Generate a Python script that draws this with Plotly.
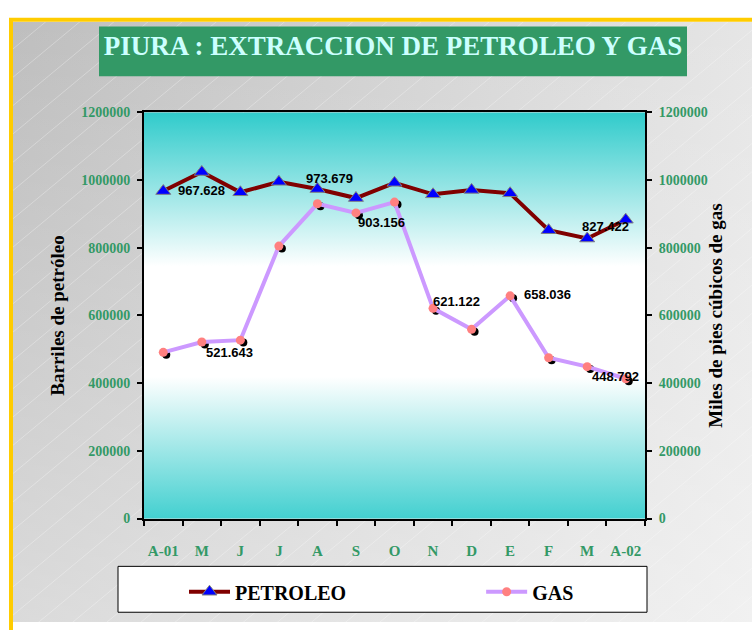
import plotly.graph_objects as go

# ---------------- data ----------------
months = ["A-01", "M", "J", "J", "A", "S", "O", "N", "D", "E", "F", "M", "A-02"]
petroleo = [967628, 1024000, 964000, 995000, 973679, 947000, 992000, 958000, 971000, 961000, 852000, 827422, 883000]
gas = [491000, 521643, 527000, 805000, 930000, 903156, 935000, 621122, 559000, 658036, 475000, 448792, 413000]
y_ticks = [0, 200000, 400000, 600000, 800000, 1000000, 1200000]
# which points carry a value label, and the label offset (px)
petro_labels = {0: (38, 1), 4: (12, 11), 11: (18, 12)}
gas_labels = {1: (28, -11), 5: (26, -10), 7: (23, 7), 9: (37, 1), 11: (28, -10)}

W, H = 752, 630
idx = list(range(len(months)))

SERIF = "Liberation Serif, Times New Roman, serif"
SANS = "Liberation Sans, Arial, sans-serif"
GREEN = "#339966"

# plot-area placement (pixels)
PL, PR, PT, PB = 144, 645, 108, 524
main_x = [PL / W, PR / W]
main_y = [1 - PB / H, 1 - PT / H]
shadow_x = [(PL + 3) / W, (PR + 3) / W]
shadow_y = [1 - (PB + 2.5) / H, 1 - (PT + 2.5) / H]

fig = go.Figure()

# ---------- page background (pixel coordinates, y up) ----------
gx0, gx1, gy0, gy1 = 13, W, 0, H - 15
fig.add_trace(go.Scatter(
    x=[gx0, gx1, gx1, gx0, gx0], y=[gy0, gy0, gy1, gy1, gy0],
    mode="lines", line=dict(width=0), fill="toself",
    fillgradient=dict(type="horizontal", colorscale=[[0, "#BEBEBE"], [1, "#E6E6E6"]], start=gx0, stop=gx1),
    xaxis="x", yaxis="y", hoverinfo="skip", showlegend=False))
fig.add_trace(go.Scatter(
    x=[gx0, gx1, gx1, gx0, gx0], y=[gy0, gy0, gy1, gy1, gy0],
    mode="lines", line=dict(width=0), fill="toself",
    fillgradient=dict(type="vertical", colorscale=[[0, "rgba(255,255,255,0.45)"], [1, "rgba(255,255,255,0)"]],
                      start=gy0, stop=gy1),
    xaxis="x", yaxis="y", hoverinfo="skip", showlegend=False))
# faint diagonal stripes
sx, sy = [], []
c = -700
while c < 640:
    sx += [gx0, gx1, None]
    sy += [0.85 * gx0 + c, 0.85 * gx1 + c, None]
    c += 29
fig.add_trace(go.Scatter(x=sx, y=sy, mode="lines", line=dict(color="rgba(255,255,255,0.3)", width=1),
                         xaxis="x", yaxis="y", hoverinfo="skip", showlegend=False))
# plot-area gradient
by0, by1 = H - PB, H - PT
fig.add_trace(go.Scatter(
    x=[PL, PR, PR, PL, PL], y=[by0, by0, by1, by1, by0],
    mode="lines", line=dict(width=0), fill="toself",
    fillgradient=dict(type="vertical",
                      colorscale=[[0, "#33CCCC"], [0.37, "#FFFFFF"], [0.635, "#FFFFFF"], [1, "#33CCCC"]],
                      start=by0, stop=by1),
    xaxis="x", yaxis="y", hoverinfo="skip", showlegend=False))

# ---------- gas marker shadows ----------
fig.add_trace(go.Scatter(x=idx, y=gas, mode="markers", marker=dict(color="black", size=8),
                         xaxis="x2", yaxis="y2", hoverinfo="skip", showlegend=False))

# ---------- data series ----------
pad = "\u00a0" * 26
fig.add_trace(go.Scatter(
    x=idx, y=petroleo, name="PETROLEO" + pad, mode="lines+markers",
    line=dict(color="#800000", width=4),
    marker=dict(symbol="triangle-up", size=13, color="#0000FF", line=dict(color="#808080", width=1)),
    xaxis="x3", yaxis="y3"))
fig.add_trace(go.Scatter(
    x=idx, y=gas, name="GAS", mode="lines+markers",
    line=dict(color="#CC99FF", width=4),
    marker=dict(symbol="circle", size=9, color="#FF8080"),
    xaxis="x3", yaxis="y4"))

# ---------- value labels ----------
annotations = []
for i, (dx, dy) in petro_labels.items():
    annotations.append(dict(x=idx[i], y=petroleo[i], xref="x3", yref="y3",
                            text=f"{petroleo[i] / 1000:.3f}", showarrow=False,
                            xshift=dx, yshift=dy,
                            font=dict(family=SANS, size=13, color="black", weight="bold")))
for i, (dx, dy) in gas_labels.items():
    annotations.append(dict(x=idx[i], y=gas[i], xref="x3", yref="y4",
                            text=f"{gas[i] / 1000:.3f}", showarrow=False,
                            xshift=dx, yshift=dy,
                            font=dict(family=SANS, size=13, color="black", weight="bold")))

tickfont = dict(family=SERIF, size=14, color=GREEN, weight="bold")
titlefont = dict(family=SERIF, size=19, color="black", weight="bold")

fig.update_layout(
    width=W, height=H,
    margin=dict(l=0, r=0, t=0, b=0),
    paper_bgcolor="white", plot_bgcolor="rgba(0,0,0,0)",
    title=dict(text="PIURA : EXTRACCION DE PETROLEO Y GAS",
               font=dict(family=SERIF, size=27, color="#CCFFFF", weight="bold"),
               x=393 / W, xanchor="center", y=1 - 45.5 / H, yanchor="middle"),
    xaxis=dict(domain=[gx0 / W, 1], range=[gx0, gx1], visible=False, fixedrange=True),
    yaxis=dict(domain=[0, gy1 / H], range=[gy0, gy1], visible=False, fixedrange=True),
    xaxis2=dict(domain=shadow_x, range=[-0.5, len(months) - 0.5], visible=False, anchor="y2"),
    yaxis2=dict(domain=shadow_y, range=[0, 1200000], visible=False, anchor="x2"),
    xaxis3=dict(domain=main_x, range=[-0.5, len(months) - 0.5], anchor="y3",
                tickmode="array", tickvals=idx, ticktext=months, ticks="",
                ticklabelstandoff=17, tickfont=dict(family=SERIF, size=15, color=GREEN, weight="bold"),
                minor=dict(tickmode="array", tickvals=[i - 0.5 for i in range(len(months) + 1)],
                           ticks="outside", ticklen=5, tickcolor="black", tickwidth=1.5, showgrid=False),
                showline=True, linecolor="black", linewidth=2, mirror=True, showgrid=False, zeroline=False),
    yaxis3=dict(domain=main_y, range=[0, 1200000], anchor="x3",
                tickmode="array", tickvals=y_ticks, tickformat="d",
                ticks="outside", ticklen=5, tickcolor="black", tickwidth=1.5, ticklabelstandoff=4,
                tickfont=tickfont, showline=True, linecolor="black", linewidth=2,
                showgrid=False, zeroline=False,
                title=dict(text="Barriles de petróleo", font=titlefont, standoff=12)),
    yaxis4=dict(overlaying="y3", side="right", anchor="x3", range=[0, 1200000],
                tickmode="array", tickvals=y_ticks, tickformat="d",
                ticks="outside", ticklen=5, tickcolor="black", tickwidth=1.5, ticklabelstandoff=4,
                tickfont=tickfont, showline=True, linecolor="black", linewidth=2,
                showgrid=False, zeroline=False,
                title=dict(text="Miles de pies cúbicos de gas", font=titlefont, standoff=2)),
    legend=dict(orientation="h", x=184 / W, xanchor="left", y=1 - 599 / H, yanchor="middle",
                itemwidth=41, bgcolor="rgba(0,0,0,0)", borderwidth=0,
                font=dict(family=SERIF, size=20, color="black", weight="bold")),
    shapes=[
        dict(type="rect", xref="paper", yref="paper", x0=11 / W, x1=1.02, y0=-0.02, y1=1 - 13 / H,
             line=dict(color="#FFCC00", width=4), layer="above"),
        dict(type="rect", xref="paper", yref="paper", x0=99 / W, x1=687 / W, y0=1 - 71 / H, y1=1 - 20 / H,
             fillcolor="#339966", line=dict(width=0), layer="above"),
        dict(type="rect", xref="paper", yref="paper", x0=118 / W, x1=647 / W, y0=1 - 620 / H, y1=1 - 573 / H,
             fillcolor="white", line=dict(color="black", width=1), layer="above"),
    ],
    annotations=annotations,
    showlegend=True,
)

fig.write_html("out.html", config={"displayModeBar": False},
               post_script="document.body.style.margin='0px';")
